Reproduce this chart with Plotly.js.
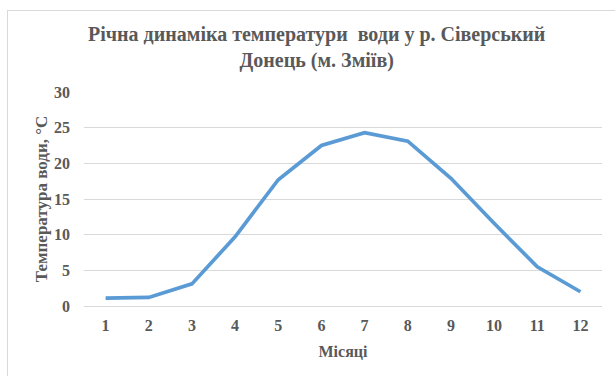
<!DOCTYPE html>
<html>
<head>
<meta charset="utf-8">
<script src="https://cdn.plot.ly/plotly-3.0.1.min.js"></script>
<style>
  html, body { margin: 0; padding: 0; background: #fff; }
  #wrap { position: relative; width: 615px; height: 376px; }
  #chart { width: 615px; height: 376px; }
  #frame { position: absolute; left: 7px; top: 10px; width: 640px; height: 400px;
           border: 1px solid #d9d9d9; pointer-events: none; }
</style>
</head>
<body>
<div id="wrap">
  <div id="chart"></div>
  <div id="frame"></div>
</div>
<script>
// Monthly mean water temperature, °C
const months = [1, 2, 3, 4, 5, 6, 7, 8, 9, 10, 11, 12];
const temperature = [1.1, 1.2, 3.1, 9.7, 17.7, 22.5, 24.3, 23.1, 17.9, 11.6, 5.5, 2.0];
const yTicks = [0, 5, 10, 15, 20, 25, 30];

const serif = '"Liberation Serif", "Times New Roman", serif';
const grey = '#595959';

Plotly.newPlot('chart', [{
  x: months,
  y: temperature,
  type: 'scatter',
  mode: 'lines',
  line: { color: '#5B9BD5', width: 3.7 },
  hoverinfo: 'x+y'
}], {
  width: 615,
  height: 376,
  margin: { l: 84, r: 13, t: 92, b: 70 },
  paper_bgcolor: '#ffffff',
  plot_bgcolor: '#ffffff',
  showlegend: false,
  title: {
    text: '<b>Річна динаміка температури  води у р. Сіверський<br>Донець (м. Зміїв)</b>',
    font: { family: serif, size: 20, color: grey },
    x: 0.515, xanchor: 'center',
    y: 0.89, yanchor: 'middle'
  },
  xaxis: {
    range: [0.5, 12.5],
    tickvals: months,
    ticktext: months.map(m => '<b>' + m + '</b>'),
    tickfont: { family: serif, size: 16, color: grey },
    showgrid: false,
    zeroline: false,
    showline: false,
    ticks: '',
    ticklabelstandoff: 8,
    title: { text: '<b>Місяці</b>', font: { family: serif, size: 16, color: grey }, standoff: 12 }
  },
  yaxis: {
    range: [0, 30],
    tickvals: yTicks,
    ticktext: yTicks.map(v => '<b>' + v + '</b>'),
    tickfont: { family: serif, size: 16, color: grey },
    showgrid: true,
    gridcolor: '#d9d9d9',
    gridwidth: 1,
    zeroline: true,
    zerolinecolor: '#d9d9d9',
    zerolinewidth: 1,
    showline: false,
    ticks: '',
    ticklabelstandoff: 13,
    title: { text: '<b>Температура води, °С</b>', font: { family: serif, size: 17, color: grey }, standoff: 2 }
  }
}, { displayModeBar: false, staticPlot: true });
</script>
</body>
</html>
